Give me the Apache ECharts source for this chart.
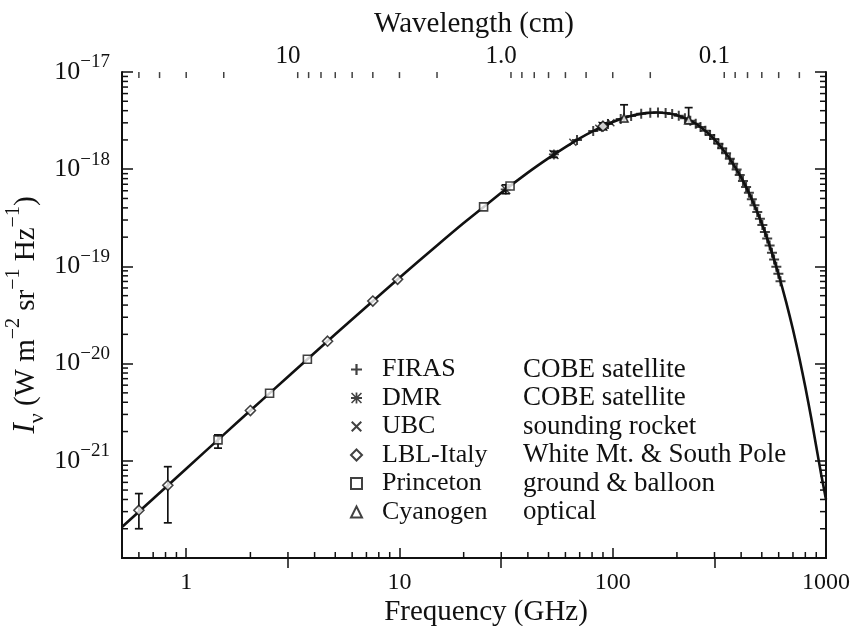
<!DOCTYPE html>
<html>
<head>
<meta charset="utf-8">
<title>CMB spectrum</title>
<script src="https://cdn.jsdelivr.net/npm/echarts@6/dist/echarts.min.js"></script>
<style>
  html, body { margin: 0; padding: 0; background: #fff; }
  #main { width: 857px; height: 626px; }
</style>
</head>
<body>
<div id="main"></div>
<script>
var SERIF = '"Liberation Serif", "Times New Roman", serif';
var INK = '#111';

// axis ranges
var FREQ_MIN = 0.5, FREQ_MAX = 1000;      // GHz
var WAVE_MIN = 0.03, WAVE_MAX = 60;       // cm
var INT_MIN = 1e-22, INT_MAX = 1e-17;     // W m^-2 sr^-1 Hz^-1
var EDGE = 1.002;                          // keeps tick anchors just inside the frame

// blackbody curve (GHz, W m^-2 sr^-1 Hz^-1)
var curveFreq = [0.5, 0.7, 1, 1.5, 2, 3, 5, 7, 10, 15, 20, 30, 40, 50, 60, 70, 80, 100,
  120, 140, 160, 180, 200, 230, 260, 300, 350, 400, 450, 500, 550, 600, 650, 700, 750,
  800, 850, 900, 950, 1000];
var curveIntensity = [2.08e-22, 4.07e-22, 8.29e-22, 1.86e-21, 3.29e-21, 7.33e-21, 2.00e-20,
  3.85e-20, 7.65e-20, 1.64e-19, 2.79e-19, 5.71e-19, 9.22e-19, 1.30e-18, 1.69e-18, 2.08e-18,
  2.44e-18, 3.06e-18, 3.50e-18, 3.75e-18, 3.83e-18, 3.77e-18, 3.59e-18, 3.18e-18, 2.69e-18,
  2.03e-18, 1.33e-18, 8.23e-19, 4.85e-19, 2.76e-19, 1.52e-19, 8.19e-20, 4.32e-20, 2.24e-20,
  1.14e-20, 5.74e-21, 2.85e-21, 1.40e-21, 7.2e-22, 4.0e-22];

// measurements
var firasFreq = [68, 81, 95, 109, 122, 136, 150, 163, 177, 190, 204, 218, 231, 245, 258, 272,
  286, 299, 313, 326, 340, 354, 367, 381, 394, 408, 422, 435, 449, 462, 476, 490, 503, 517,
  530, 544, 558, 571, 585, 598, 612];
var firasIntensity = [2.00e-18, 2.47e-18, 2.92e-18, 3.28e-18, 3.53e-18, 3.72e-18, 3.81e-18,
  3.83e-18, 3.78e-18, 3.69e-18, 3.54e-18, 3.35e-18, 3.16e-18, 2.94e-18, 2.72e-18, 2.48e-18,
  2.25e-18, 2.04e-18, 1.83e-18, 1.64e-18, 1.46e-18, 1.28e-18, 1.14e-18, 9.94e-19, 8.74e-19,
  7.58e-19, 6.56e-19, 5.71e-19, 4.91e-19, 4.25e-19, 3.63e-19, 3.10e-19, 2.67e-19, 2.26e-19,
  1.94e-19, 1.64e-19, 1.38e-19, 1.18e-19, 9.89e-20, 8.40e-20, 7.03e-20];
var dmrFreq = [31.5, 53, 90];
var dmrIntensity = [6.2e-19, 1.42e-18, 2.77e-18];
var ubcFreq = [65, 86, 98];
var ubcIntensity = [1.89e-18, 2.64e-18, 3.00e-18];
var lblFreq = [0.6, 0.82, 2.0, 4.6, 7.5, 9.8, 90];
var lblIntensity = [3.1e-22, 5.6e-22, 3.29e-21, 1.70e-20, 4.40e-20, 7.36e-20, 2.77e-18];
var princetonFreq = [1.41, 2.46, 3.7, 24.8, 33];
var princetonIntensity = [1.64e-21, 4.95e-21, 1.11e-20, 4.10e-19, 6.71e-19];
var cyanogenFreq = [113, 227];
var cyanogenIntensity = [3.36e-18, 3.22e-18];

// error bars
var errFreq = [0.6, 0.82, 1.41, 31.5, 53, 90, 113, 227];
var errLow = [2.0e-22, 2.3e-22, 1.35e-21, 5.6e-19, 1.32e-18, 2.55e-18, 3.1e-18, 2.95e-18];
var errHigh = [4.6e-22, 8.7e-22, 1.85e-21, 6.9e-19, 1.53e-18, 3.0e-18, 4.6e-18, 4.3e-18];

// minor ticks (frequency and intensity in axis units, wavelength in cm)
var freqMinorTicks = [0.6, 0.7, 0.8, 0.9, 2, 3, 4, 5, 6, 7, 8, 9, 20, 30, 40, 50, 60, 70, 80, 90,
  200, 300, 400, 500, 600, 700, 800, 900];
var waveMinorTicks = [50, 40, 30, 20, 9, 8, 7, 6, 5, 4, 3, 2, 0.9, 0.8, 0.7, 0.6, 0.5, 0.4, 0.3,
  0.2, 0.09, 0.08, 0.07, 0.06, 0.05, 0.04];
var intensityMinorTicks = [2e-22, 3e-22, 4e-22, 5e-22, 6e-22, 7e-22, 8e-22, 9e-22,
  2e-21, 3e-21, 4e-21, 5e-21, 6e-21, 7e-21, 8e-21, 9e-21,
  2e-20, 3e-20, 4e-20, 5e-20, 6e-20, 7e-20, 8e-20, 9e-20,
  2e-19, 3e-19, 4e-19, 5e-19, 6e-19, 7e-19, 8e-19, 9e-19,
  2e-18, 3e-18, 4e-18, 5e-18, 6e-18, 7e-18, 8e-18, 9e-18];

var sources = ['FIRAS', 'DMR', 'UBC', 'LBL-Italy', 'Princeton', 'Cyanogen'];
var sourceNotes = ['COBE satellite', 'COBE satellite', 'sounding rocket',
  'White Mt. & South Pole', 'ground & balloon', 'optical'];

var PLUS = 'path://M4,0h2v4h4v2h-4v4h-2v-4h-4v-2h4z';
var CROSS = 'path://M1.3,0L5,3.7L8.7,0L10,1.3L6.3,5L10,8.7L8.7,10L5,6.3L1.3,10L0,8.7L3.7,5L0,1.3Z';
var STAR = 'path://M4.2,0h1.6v10h-1.6z M0,4.2h10v1.6h-10z M1,0L10,9L9,10L0,1Z M9,0L10,1L1,10L0,9Z';

function pairs(xs, ys) {
  return xs.map(function (x, i) { return [x, ys[i]]; });
}

var myChart = echarts.init(document.getElementById('main'));

function errorBar(params, api) {
  var x = api.value(0);
  var top = api.coord([x, api.value(2)]);
  var bot = api.coord([x, api.value(1)]);
  var w = 4;
  var st = { stroke: INK, lineWidth: 1.7 };
  return {
    type: 'group',
    children: [
      { type: 'line', shape: { x1: top[0], y1: top[1], x2: bot[0], y2: bot[1] }, style: st },
      { type: 'line', shape: { x1: top[0] - w, y1: top[1], x2: top[0] + w, y2: top[1] }, style: st },
      { type: 'line', shape: { x1: bot[0] - w, y1: bot[1], x2: bot[0] + w, y2: bot[1] }, style: st }
    ]
  };
}

function scatter(name, symbol, xs, ys, size, open) {
  return {
    name: name, type: 'scatter', symbol: symbol, symbolSize: size,
    data: pairs(xs, ys), z: 4,
    itemStyle: open
      ? { color: '#fff', borderColor: INK, borderWidth: 1.6 }
      : { color: INK, borderColor: INK, borderWidth: 0 }
  };
}

var option = {
  backgroundColor: '#fff',
  animation: false,
  grid: { left: 122, right: 31, top: 72, bottom: 68, outerBoundsMode: 'none' },
  legend: {
    data: sources,
    orient: 'vertical', left: 345, top: 351,
    itemWidth: 11, itemHeight: 11, itemGap: 1.5,
    selectedMode: false,
    formatter: function (name) {
      return '{n|' + name + '}{d|' + sourceNotes[sources.indexOf(name)] + '}';
    },
    textStyle: {
      fontFamily: SERIF, fontSize: 26, color: INK,
      rich: {
        n: { fontFamily: SERIF, fontSize: 26, color: INK, width: 141, padding: [0, 0, 0, 15], lineHeight: 22 },
        d: { fontFamily: SERIF, fontSize: 27, color: INK, lineHeight: 22 }
      }
    }
  },
  xAxis: [{
    type: 'log', min: FREQ_MIN, max: FREQ_MAX, position: 'bottom',
    name: 'Frequency (GHz)', nameLocation: 'middle', nameGap: 40, nameMoveOverlap: false,
    nameTextStyle: { fontFamily: SERIF, fontSize: 29, color: INK, padding: [0, 0, 0, 24] },
    axisLine: { lineStyle: { color: INK, width: 2 } },
    axisTick: { inside: true, length: 10, lineStyle: { color: INK, width: 1.5 } },
    axisLabel: {
      fontFamily: SERIF, fontSize: 24, color: INK, margin: 13, showMinLabel: false,
      formatter: function (v) { return v < 0.99 ? '' : String(Math.round(v)); }
    },
    splitLine: { show: false }
  }, {
    type: 'log', min: WAVE_MIN, max: WAVE_MAX, inverse: true, position: 'top',
    name: 'Wavelength (cm)', nameLocation: 'middle', nameGap: 33, nameMoveOverlap: false,
    nameTextStyle: { fontFamily: SERIF, fontSize: 29, color: INK },
    axisLine: { lineStyle: { color: INK, width: 2 } },
    axisTick: { inside: true, length: 10, lineStyle: { color: INK, width: 1.5 } },
    axisLabel: {
      fontFamily: SERIF, fontSize: 25, color: INK, margin: 3,
      showMinLabel: false, showMaxLabel: false,
      formatter: function (v) {
        if (Math.abs(v - 10) < 1e-6) return '10';
        if (Math.abs(v - 1) < 1e-6) return '1.0';
        if (Math.abs(v - 0.1) < 1e-6) return '0.1';
        return '';
      }
    },
    splitLine: { show: false }
  }],
  yAxis: [{
    type: 'log', min: INT_MIN, max: INT_MAX, position: 'left',
    name: '{i|I}{sub|ν}{t| (W m}{sup|−2}{t| sr}{sup|−1}{t| Hz}{sup|−1}{t|)}',
    nameLocation: 'middle', nameRotate: 90, nameGap: 74, nameMoveOverlap: false,
    nameTextStyle: {
      fontFamily: SERIF, fontSize: 29, color: INK,
      rich: {
        i: { fontFamily: SERIF, fontSize: 31, fontStyle: 'italic', color: INK, lineHeight: 44 },
        t: { fontFamily: SERIF, fontSize: 29, color: INK, lineHeight: 44 },
        sup: { fontFamily: SERIF, fontSize: 20, color: INK, lineHeight: 20, verticalAlign: 'top' },
        sub: { fontFamily: SERIF, fontSize: 22, color: INK, lineHeight: 14, verticalAlign: 'bottom' }
      }
    },
    axisLine: { lineStyle: { color: INK, width: 2 } },
    axisTick: { inside: true, length: 11, lineStyle: { color: INK, width: 1.5 } },
    axisLabel: {
      fontFamily: SERIF, color: INK, margin: 12,
      formatter: function (v) {
        var e = Math.round(Math.log(v) / Math.LN10);
        return '{b|10}{s|−' + Math.abs(e) + '}';
      },
      rich: {
        b: { fontFamily: SERIF, fontSize: 26, color: INK, lineHeight: 38 },
        s: { fontFamily: SERIF, fontSize: 19, color: INK, lineHeight: 19, verticalAlign: 'top' }
      }
    },
    splitLine: { show: false }
  }, {
    type: 'log', min: INT_MIN, max: INT_MAX, position: 'right',
    axisLine: { lineStyle: { color: INK, width: 2 } },
    axisTick: { inside: true, length: 11, lineStyle: { color: INK, width: 1.5 } },
    axisLabel: { show: false },
    splitLine: { show: false }
  }],
  series: [
    {
      name: 'blackbody', type: 'line', data: pairs(curveFreq, curveIntensity),
      showSymbol: false, smooth: 0.2, lineStyle: { color: INK, width: 2.6 }, z: 3
    },
    scatter('FIRAS', PLUS, firasFreq, firasIntensity, 10, false),
    scatter('DMR', STAR, dmrFreq, dmrIntensity, 10, false),
    scatter('UBC', CROSS, ubcFreq, ubcIntensity, 8, false),
    scatter('LBL-Italy', 'diamond', lblFreq, lblIntensity, 10, true),
    scatter('Princeton', 'rect', princetonFreq, princetonIntensity, 8, true),
    scatter('Cyanogen', 'triangle', cyanogenFreq, cyanogenIntensity, 8, true),
    {
      name: 'errors', type: 'custom', renderItem: errorBar, silent: true, z: 4,
      encode: { x: 0, y: [1, 2] },
      data: errFreq.map(function (f, i) { return [f, errLow[i], errHigh[i]]; })
    },
    {
      // wavelength minor ticks along the top frame
      name: 'tickTop', type: 'scatter', xAxisIndex: 1,
      symbol: 'rect', symbolSize: [1.5, 6], symbolOffset: [0, 3],
      itemStyle: { color: INK },
      data: waveMinorTicks.map(function (v) { return [v, INT_MAX / EDGE]; })
    }
  ]
};

myChart.setOption(option);

// minor ticks on the bottom, left and right frame, placed through the chart's own log scales
var tickStyle = { stroke: INK, lineWidth: 1.5 };
var tickMarks = [];
freqMinorTicks.forEach(function (v) {
  var p = myChart.convertToPixel({ seriesIndex: 0 }, [v, INT_MIN]);
  tickMarks.push({ type: 'line', silent: true, z: 10,
    shape: { x1: p[0], y1: p[1], x2: p[0], y2: p[1] - 6 }, style: tickStyle });
});
intensityMinorTicks.forEach(function (v) {
  var l = myChart.convertToPixel({ seriesIndex: 0 }, [FREQ_MIN, v]);
  var r = myChart.convertToPixel({ seriesIndex: 0 }, [FREQ_MAX, v]);
  tickMarks.push({ type: 'line', silent: true, z: 10,
    shape: { x1: l[0], y1: l[1], x2: l[0] + 6, y2: l[1] }, style: tickStyle });
  tickMarks.push({ type: 'line', silent: true, z: 10,
    shape: { x1: r[0], y1: r[1], x2: r[0] - 6, y2: r[1] }, style: tickStyle });
});
myChart.setOption({ graphic: { elements: tickMarks } });
</script>
</body>
</html>
